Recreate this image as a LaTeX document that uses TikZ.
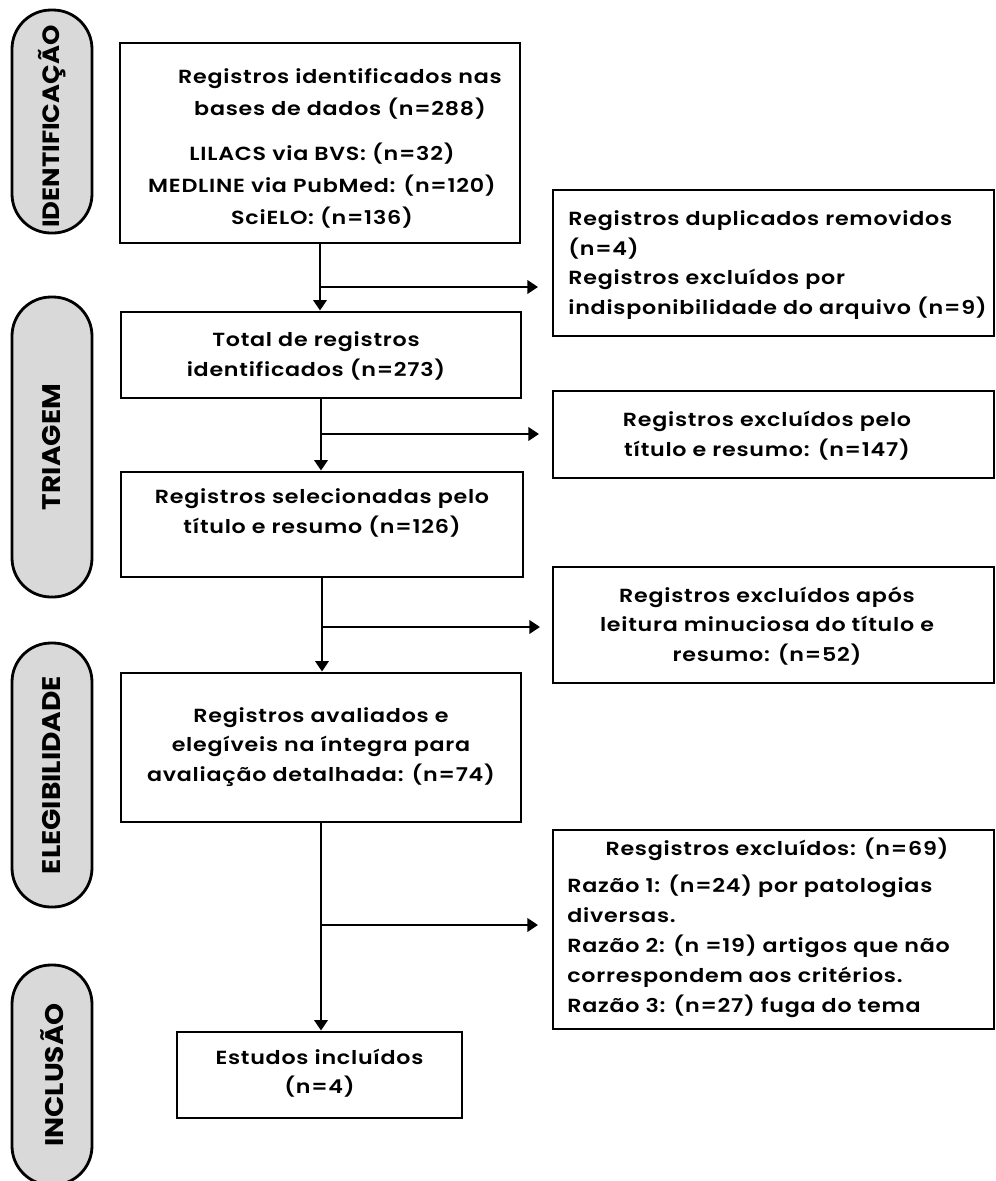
\documentclass[tikz,border=0pt]{standalone}
\usepackage{fontspec}
\setmainfont{Poppins}[UprightFont=* SemiBold, BoldFont=* Bold, FakeStretch=1.17, LetterSpace=4]
\newfontfamily\pillfont{Poppins}[UprightFont=* Bold, FakeStretch=1.1]
\usetikzlibrary{arrows.meta}
\newlength\pxu
\setlength\pxu{0.02cm}
\begin{document}
\begin{tikzpicture}[x=0.02cm,y=-0.02cm,
  box/.style={draw=black, line width=1.6pt, inner sep=0pt, fill=white},
  txt/.style={inner sep=0pt, align=center, font=\fontsize{10.8pt}{16.9pt}\selectfont},
  ltxt/.style={inner sep=0pt, align=left, font=\fontsize{10.8pt}{16.9pt}\selectfont},
  pill/.style={draw=black, line width=1.6pt, fill=pillgray, rounded corners=39\pxu, inner sep=0pt, rotate=90, font=\pillfont\fontsize{14.5pt}{16pt}\selectfont},
  conn/.style={line width=1.6pt, draw=black},
  arr/.style={conn, -{Triangle[length=6pt,width=7.5pt]}}
]
\definecolor{pillgray}{HTML}{D9D9D9}
\useasboundingbox (0,0) rectangle (996,1181);

% phase pills
\node[pill, minimum width=223\pxu, minimum height=80\pxu, font=\pillfont\fontsize{13.4pt}{16pt}\selectfont] (p1) at (52,121.5) {\hspace*{-10\pxu}IDENTIFICAÇÃO};
\node[pill, minimum width=300\pxu, minimum height=80\pxu] (p2) at (52,447) {TRIAGEM};
\node[pill, minimum width=264\pxu, minimum height=80\pxu] (p3) at (52,775) {ELEGIBILIDADE};
\node[pill, minimum width=220\pxu, minimum height=80\pxu] (p4) at (52,1075) {INCLUSÃO};

% left column
\node[box, minimum width=400\pxu, minimum height=200\pxu] (b1) at (320,143) {};
\node[txt, font=\fontsize{10.8pt}{18.6pt}\selectfont] (b1a) at (340,94) {Registros identificados nas\\bases de dados (n=288)};
\node[txt, font=\fontsize{10.8pt}{18.2pt}\selectfont] (b1b) at (322,186) {LILACS via BVS: (n=32)\\MEDLINE via PubMed: (n=120)\\SciELO: (n=136)};

\node[box, minimum width=400\pxu, minimum height=86\pxu] (b2) at (321,355) {};
\node[txt] (b2t) at (316,356) {Total de registros\\identificados (n=273)};

\node[box, minimum width=402\pxu, minimum height=105\pxu] (b3) at (322,524.5) {};
\node[txt] (b3t) at (322,513) {Registros selecionadas pelo\\título e resumo (n=126)};

\node[box, minimum width=400\pxu, minimum height=149\pxu] (b4) at (321,747.5) {};
\node[txt] (b4t) at (321,747) {Registros avaliados e\\elegíveis na íntegra para\\avaliação detalhada: (n=74)};

\node[box, minimum width=285\pxu, minimum height=86\pxu] (b5) at (319.5,1075) {};
\node[txt] (b5t) at (319.5,1073) {Estudos incluídos\\(n=4)};

% right column
\node[box, minimum width=441\pxu, minimum height=146\pxu] (r1) at (773.5,263) {};
\node[ltxt, anchor=west] (r1t) at (568,265) {Registros duplicados removidos\\(n=4)\\Registros excluídos por\\indisponibilidade do arquivo (n=9)};

\node[box, minimum width=441\pxu, minimum height=87\pxu] (r2) at (773.5,434.5) {};
\node[txt] (r2t) at (767,436) {Registros excluídos pelo\\título e resumo: (n=147)};

\node[box, minimum width=441\pxu, minimum height=116\pxu] (r3) at (773.5,625) {};
\node[txt] (r3t) at (767,626) {Registros excluídos após\\leitura minuciosa do título e\\resumo: (n=52)};

\node[box, minimum width=441\pxu, minimum height=199\pxu] (r4) at (773.5,929.5) {};
\node[txt] (r4h) at (777,849) {Resgistros excluídos: (n=69)};
\node[ltxt, anchor=west, font=\fontsize{10.8pt}{17.1pt}\selectfont] (r4t) at (567,946) {Razão 1: (n=24) por patologias\\diversas.\\Razão 2: (n =19) artigos que não\\correspondem aos critérios.\\Razão 3: (n=27) fuga do tema};

% connectors
\draw[arr] (b1.south) -- (b1.south |- b2.north);
\draw[arr] (b2.south) -- (b2.south |- b3.north);
\draw[arr] (b3.south) -- (b3.south |- b4.north);
\draw[arr] (b4.south) -- (b4.south |- b5.north);

\coordinate (j1) at (320,287);
\coordinate (e1) at (538,287);
\coordinate (j2) at (321,434);
\coordinate (e2) at (539,434);
\coordinate (j3) at (321,627);
\coordinate (e3) at (540,627);
\coordinate (j4) at (320,925);
\coordinate (e4) at (538,925);
\draw[arr] (j1) -- (e1);
\draw[arr] (j2) -- (e2);
\draw[arr] (j3) -- (e3);
\draw[arr] (j4) -- (e4);
\end{tikzpicture}
\end{document}
